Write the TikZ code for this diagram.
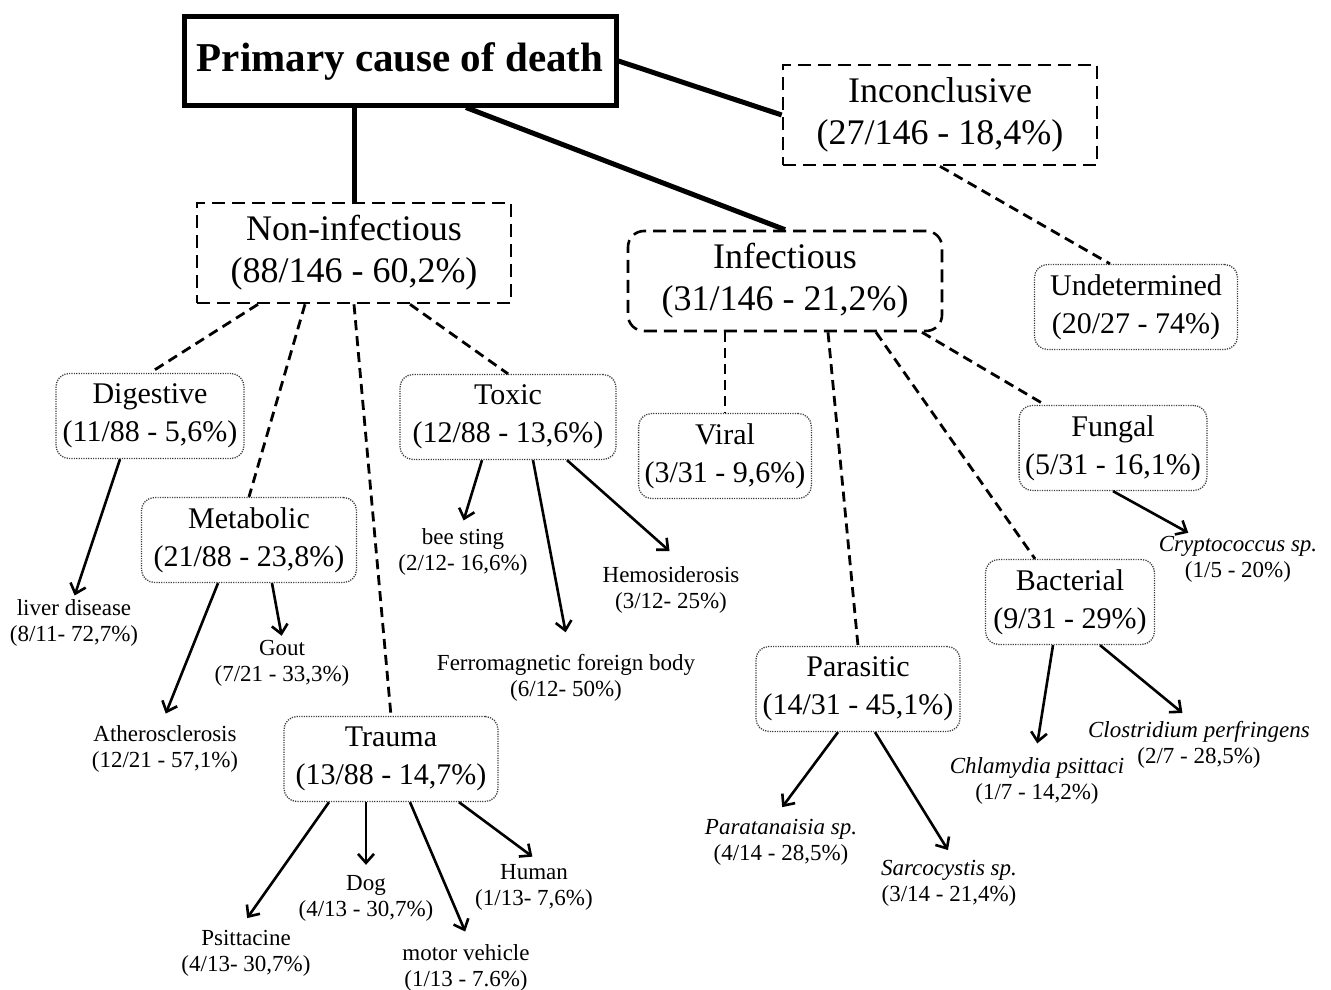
\documentclass[tikz,border=0pt]{standalone}
\usepackage{fontspec}
\setmainfont{Liberation Serif}
\usetikzlibrary{positioning,arrows.meta}

\tikzset{
  root/.style={draw, line width=5pt, minimum width=432pt, minimum height=88pt,
    font=\fontsize{41}{48}\selectfont\bfseries},
  group/.style={draw, line width=2.6pt, dash pattern=on 13pt off 7pt, align=center,
    minimum width=314pt, minimum height=100pt, font=\fontsize{36}{42}\selectfont},
  cat/.style={draw=black!75, line width=1.3pt, dash pattern=on 1.2pt off 1.2pt,
    rounded corners=13pt, align=center, minimum height=85pt, inner xsep=6pt,
    font=\fontsize{30}{38}\selectfont},
  leaf/.style={align=center, inner sep=2pt, font=\fontsize{23}{26}\selectfont},
  trunk/.style={line width=5pt},
  branch/.style={line width=2.8pt, dash pattern=on 10pt off 6pt},
  cause/.style={line width=2.6pt, shorten >=2pt,
    -{Straight Barb[length=9pt,width=16pt,line width=2.6pt]}},
}

\begin{document}
\begin{tikzpicture}[x=1pt, y=-1pt]
  \useasboundingbox (0,0) rectangle (1331,990);

  \node[root] (root) at (400,61) {Primary cause of death};
  \node[group] (incon) at (940,115) {Inconclusive\\(27/146 - 18,4\%)};
  \node[group] (noninf) at (354,253) {Non-infectious\\(88/146 - 60,2\%)};
  \node[group, rounded corners=16pt] (inf) at (785,281) {Infectious\\(31/146 - 21,2\%)};

  \node[cat, minimum width=203pt] (undet) at (1136,307) {Undetermined\\(20/27 - 74\%)};
  \node[cat, minimum width=188pt] (dig) at (150,416) {Digestive\\(11/88 - 5,6\%)};
  \node[cat, minimum width=215pt] (meta) at (249,540) {Metabolic\\(21/88 - 23,8\%)};
  \node[cat, minimum width=216pt] (toxic) at (508,417) {Toxic\\(12/88 - 13,6\%)};
  \node[cat, minimum width=214pt] (trauma) at (391,759) {Trauma\\(13/88 - 14,7\%)};
  \node[cat, minimum width=168pt] (viral) at (725,456) {Viral\\(3/31 - 9,6\%)};
  \node[cat, minimum width=186pt] (fungal) at (1113,448) {Fungal\\(5/31 - 16,1\%)};
  \node[cat, minimum width=169pt] (bact) at (1070,602) {Bacterial\\(9/31 - 29\%)};
  \node[cat, minimum width=204pt] (para) at (858,689) {Parasitic\\(14/31 - 45,1\%)};

  % leaves
  \node[leaf] (liver) at (74,623) {liver disease\\(8/11- 72,7\%)};
  \node[leaf] (gout) at (282,663) {Gout\\(7/21 - 33,3\%)};
  \node[leaf] (ath) at (165,749) {Atherosclerosis\\(12/21 - 57,1\%)};
  \node[leaf] (bee) at (463,552) {bee sting\\(2/12- 16,6\%)};
  \node[leaf] (hemo) at (671,590) {Hemosiderosis\\(3/12- 25\%)};
  \node[leaf] (ferro) at (566,678) {Ferromagnetic foreign body\\(6/12- 50\%)};
  \node[leaf] (psitt) at (246,953) {Psittacine\\(4/13- 30,7\%)};
  \node[leaf] (dog) at (366,898) {Dog\\(4/13 - 30,7\%)};
  \node[leaf] (motor) at (466,968) {motor vehicle\\(1/13 - 7.6\%)};
  \node[leaf] (human) at (534,887) {Human\\(1/13- 7,6\%)};
  \node[leaf] (parat) at (781,842) {\textit{Paratanaisia sp.}\\(4/14 - 28,5\%)};
  \node[leaf] (sarco) at (949,883) {\textit{Sarcocystis sp.}\\(3/14 - 21,4\%)};
  \node[leaf] (crypto) at (1238,559) {\textit{Cryptococcus sp.}\\(1/5 - 20\%)};
  \node[leaf] (chlam) at (1037,781) {\textit{Chlamydia psittaci}\\(1/7 - 14,2\%)};
  \node[leaf] (clost) at (1199,745) {\textit{Clostridium perfringens}\\(2/7 - 28,5\%)};

  \draw[trunk] (root.south -| noninf.north) -- (noninf.north);
  \draw[trunk] ([xshift=66pt]root.south) -- (inf.north);
  \draw[trunk] (root.east) -- (incon.west);

  \draw[branch] (incon.south) -- ([xshift=-26pt]undet.north);
  \draw[branch] ([xshift=-96pt]noninf.south) -- (dig.north);
  \draw[branch] ([xshift=-49pt]noninf.south) -- (meta.north);
  \draw[branch] (noninf.south) -- (trauma.north);
  \draw[branch] ([xshift=56pt]noninf.south) -- (toxic.north);
  \draw[branch] (inf.south -| viral.north) -- (viral.north);
  \draw[branch] ([xshift=43pt]inf.south) -- (para.north);
  \draw[branch] ([xshift=91pt]inf.south) -- ([xshift=-35pt]bact.north);
  \draw[branch] ([xshift=137pt]inf.south) -- ([xshift=-68pt]fungal.north);

  \draw[cause] ([xshift=-30pt]dig.south) -- (liver.north);
  \draw[cause] ([xshift=23pt]meta.south) -- (gout.north);
  \draw[cause] ([xshift=-31pt]meta.south) -- ([yshift=8pt]ath.north);
  \draw[cause] ([xshift=-26pt]toxic.south) -- ([yshift=4pt]bee.north);
  \draw[cause] ([xshift=25pt]toxic.south) -- ([yshift=18pt]ferro.north);
  \draw[cause] ([xshift=59pt]toxic.south) -- ([yshift=12pt]hemo.north);
  \draw[cause] ([xshift=-62pt]trauma.south) -- ([yshift=8pt]psitt.north);
  \draw[cause] (trauma.south -| dog.north) -- ([yshift=6pt]dog.north);
  \draw[cause] ([xshift=19pt]trauma.south) -- ([yshift=9pt]motor.north);
  \draw[cause] ([xshift=68pt]trauma.south) -- ([yshift=4pt]human.north);
  \draw[cause] ([xshift=-20pt]para.south) -- ([yshift=8pt]parat.north);
  \draw[cause] ([xshift=17pt]para.south) -- ([yshift=6pt]sarco.north);
  \draw[cause] (fungal.south) -- ([xshift=-48pt]crypto.north);
  \draw[cause] ([xshift=-17pt]bact.south) -- ([yshift=10pt]chlam.north);
  \draw[cause] ([xshift=30pt]bact.south) -- ([xshift=-15pt,yshift=5pt]clost.north);
\end{tikzpicture}
\end{document}
